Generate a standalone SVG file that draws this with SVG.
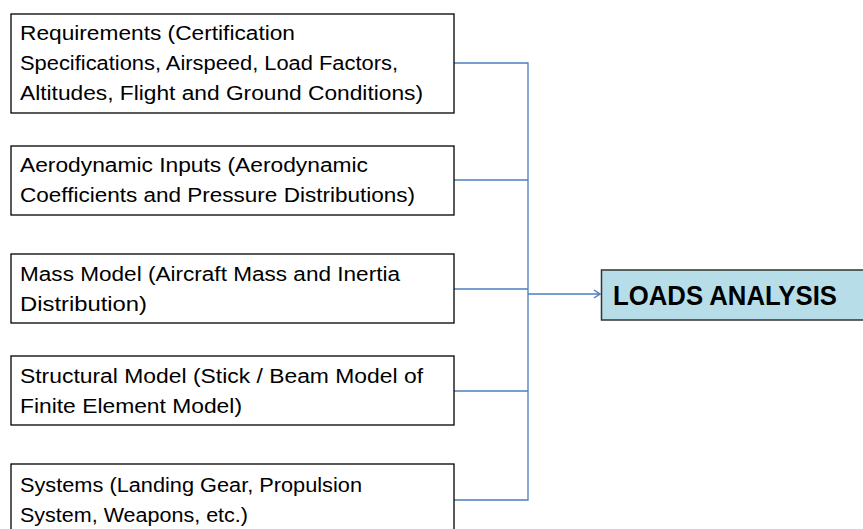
<svg xmlns="http://www.w3.org/2000/svg" width="863" height="529" viewBox="0 0 863 529">
<style>
.box{fill:#fff;stroke:#000;stroke-width:1.3}
.t{font-family:"Liberation Sans",Arial,sans-serif;font-size:20px;fill:#000}
.c{fill:none;stroke:#4a7ebb;stroke-width:1.3}
.main{fill:#b7dde8;stroke:#333;stroke-width:1.5}
.mt{font-family:"Liberation Sans",Arial,sans-serif;font-size:27px;font-weight:bold;fill:#000}
</style>
<defs>
<marker id="ah" markerWidth="10" markerHeight="10" refX="8" refY="5" orient="auto" markerUnits="userSpaceOnUse">
<path d="M2,1 L8,5 L2,9" fill="none" stroke="#4a7ebb" stroke-width="1.5"/>
</marker>
</defs>
<g id="connectors">
<path class="c" d="M454,63 H528 V500 H454"/>
<path class="c" d="M454,180 H528"/>
<path class="c" d="M454,289 H528"/>
<path class="c" d="M454,391 H528"/>
<path class="c" d="M528,294 H600" marker-end="url(#ah)"/>
</g>
<g id="requirements">
<rect class="box" x="11" y="14" width="443" height="99"/>
<text class="t" x="20" y="40" textLength="275" lengthAdjust="spacingAndGlyphs">Requirements (Certification</text>
<text class="t" x="20" y="70" textLength="378" lengthAdjust="spacingAndGlyphs">Specifications, Airspeed, Load Factors,</text>
<text class="t" x="20" y="100" textLength="403" lengthAdjust="spacingAndGlyphs">Altitudes, Flight and Ground Conditions)</text>
</g>
<g id="aero">
<rect class="box" x="11" y="146" width="443" height="69"/>
<text class="t" x="20" y="172" textLength="348" lengthAdjust="spacingAndGlyphs">Aerodynamic Inputs (Aerodynamic</text>
<text class="t" x="20" y="202" textLength="395" lengthAdjust="spacingAndGlyphs">Coefficients and Pressure  Distributions)</text>
</g>
<g id="mass">
<rect class="box" x="11" y="254" width="443" height="69"/>
<text class="t" x="20" y="281" textLength="380" lengthAdjust="spacingAndGlyphs">Mass Model (Aircraft Mass and Inertia</text>
<text class="t" x="20" y="311" textLength="127" lengthAdjust="spacingAndGlyphs">Distribution)</text>
</g>
<g id="structural">
<rect class="box" x="11" y="356" width="443" height="69"/>
<text class="t" x="20" y="383" textLength="403" lengthAdjust="spacingAndGlyphs">Structural Model (Stick / Beam Model of</text>
<text class="t" x="20" y="413" textLength="222" lengthAdjust="spacingAndGlyphs">Finite Element Model)</text>
</g>
<g id="systems">
<rect class="box" x="11" y="464" width="443" height="75"/>
<text class="t" x="20" y="492" textLength="342" lengthAdjust="spacingAndGlyphs">Systems (Landing Gear, Propulsion</text>
<text class="t" x="20" y="522" textLength="228" lengthAdjust="spacingAndGlyphs">System, Weapons, etc.)</text>
</g>
<g id="loads">
<rect class="main" x="601.5" y="270" width="270" height="50"/>
<text class="mt" x="613" y="305" textLength="224" lengthAdjust="spacingAndGlyphs">LOADS ANALYSIS</text>
</g>
</svg>
